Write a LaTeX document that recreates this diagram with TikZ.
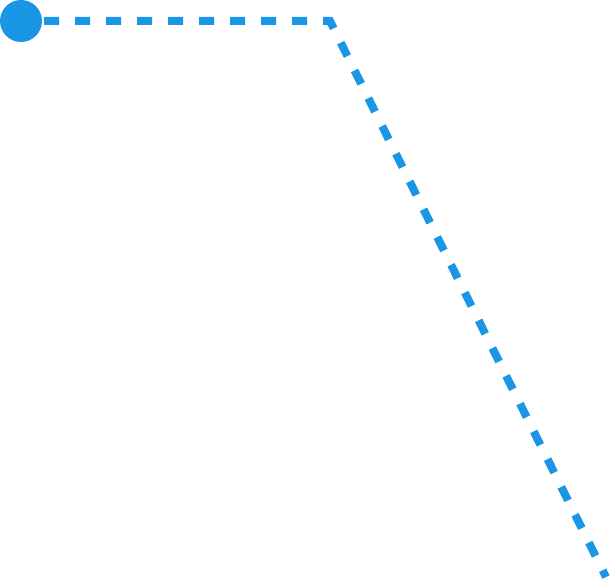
\documentclass[tikz,border=0pt]{standalone}
\usetikzlibrary{positioning}
\definecolor{trailblue}{HTML}{1A96E6}
\tikzset{
  startdot/.style ={circle, fill=trailblue, minimum size=42pt, inner sep=0pt},
  trail/.style    ={draw=trailblue, line width=8pt, dash pattern=on 15pt off 16pt, dash phase=-2pt},
}
\begin{document}
\begin{tikzpicture}[x=1pt,y=-1pt]
  \useasboundingbox (0,0) rectangle (610,580);
  % start point and route
  \node[startdot] (start) at (21,21) {};
  \coordinate (bend) at (330,21);
  \coordinate (finish) at (606,577);
  \draw[trail] (start) -- (bend) -- (finish);
\end{tikzpicture}
\end{document}
